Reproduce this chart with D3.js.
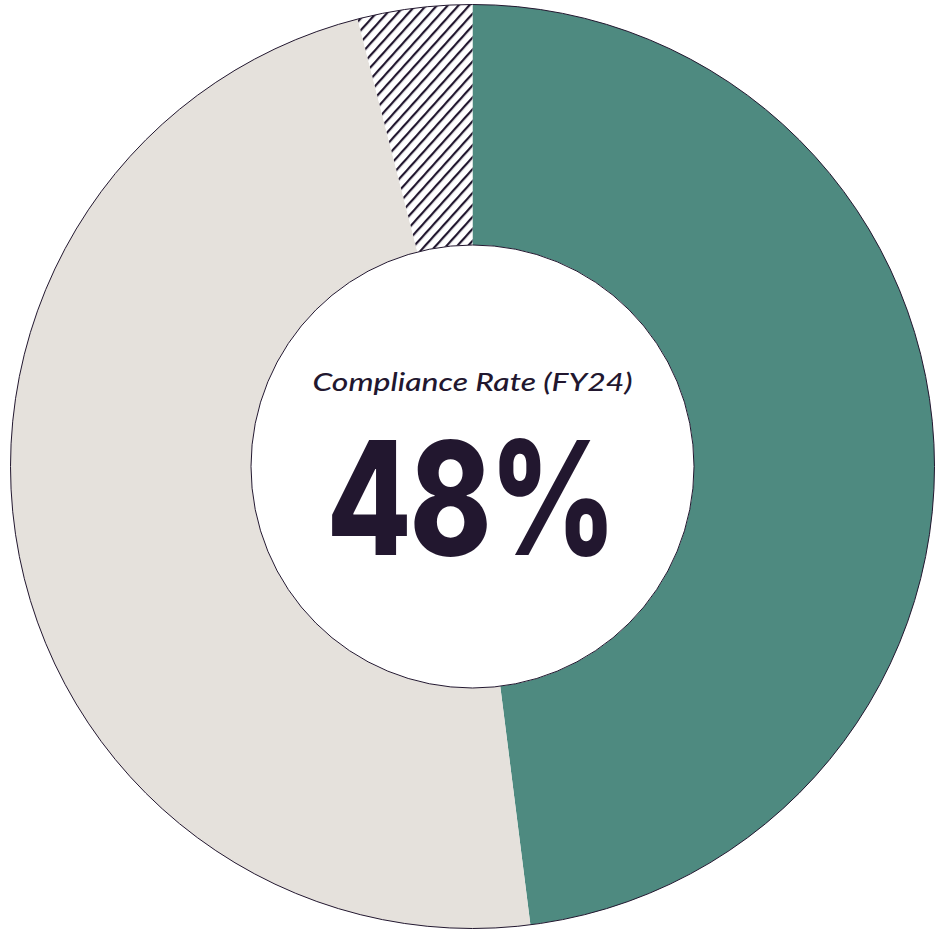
<!DOCTYPE html>
<html>
<head>
<meta charset="utf-8">
<script src="https://cdn.jsdelivr.net/npm/d3@7"></script>
<style>
  html, body { margin: 0; padding: 0; background: #fff; }
  svg { display: block; }
</style>
</head>
<body>
<svg id="chart" width="941" height="930"></svg>
<script>
// Share of cases by compliance status, FY24 (percent)
const categories = ["Compliant", "Non-compliant", "Unknown"];
const shares = [48, 48, 4];
const fills = ["#4e8a80", "#e5e1dc", "url(#hatch)"];
const centerTitle = "Compliance Rate (FY24)";
const centerValue = "48%";

const width = 941, height = 930;
const cx = 472.5, cy = 466.5;
const outerR = 462, innerR = 221.5;
const ink = "#22172f";

const svg = d3.select("#chart");

// Diagonal hatching for the "unknown" slice
const defs = svg.append("defs");
const pat = defs.append("pattern")
  .attr("id", "hatch")
  .attr("patternUnits", "userSpaceOnUse")
  .attr("width", 8).attr("height", 8)
  .attr("patternTransform", "rotate(42)");
pat.append("rect").attr("width", 8).attr("height", 8).attr("fill", "#fff");
pat.append("line")
  .attr("x1", 1).attr("y1", 0).attr("x2", 1).attr("y2", 8)
  .attr("stroke", ink).attr("stroke-width", 2.4);

const data = categories.map((c, i) => ({ name: c, value: shares[i], fill: fills[i] }));

const pie = d3.pie().sort(null).value(d => d.value);
const arc = d3.arc().innerRadius(innerR).outerRadius(outerR);

const g = svg.append("g").attr("transform", `translate(${cx},${cy})`);

g.selectAll("path.slice")
  .data(pie(data))
  .join("path")
  .attr("class", "slice")
  .attr("d", arc)
  .attr("fill", d => d.data.fill);

// Thin outlines on the outer and inner rims
g.append("circle").attr("r", outerR).attr("fill", "none").attr("stroke", ink).attr("stroke-width", 1);
g.append("circle").attr("r", innerR).attr("fill", "#fff").attr("stroke", ink).attr("stroke-width", 1);

g.append("text")
  .attr("x", 0).attr("y", -76)
  .attr("text-anchor", "middle")
  .attr("font-family", "Lato, 'Open Sans', sans-serif")
  .attr("font-style", "italic")
  .attr("font-weight", 500)
  .attr("font-size", 25)
  .attr("fill", ink)
  .attr("textLength", 320)
  .attr("lengthAdjust", "spacingAndGlyphs")
  .text(centerTitle);

g.append("text")
  .attr("x", -2).attr("y", 88)
  .attr("text-anchor", "middle")
  .attr("font-family", "Inter, Lato, sans-serif")
  .attr("font-weight", 800)
  .attr("font-size", 158)
  .attr("letter-spacing", -3)
  .attr("fill", ink)
  .attr("textLength", 288)
  .attr("lengthAdjust", "spacingAndGlyphs")
  .text(centerValue);
</script>
</body>
</html>
